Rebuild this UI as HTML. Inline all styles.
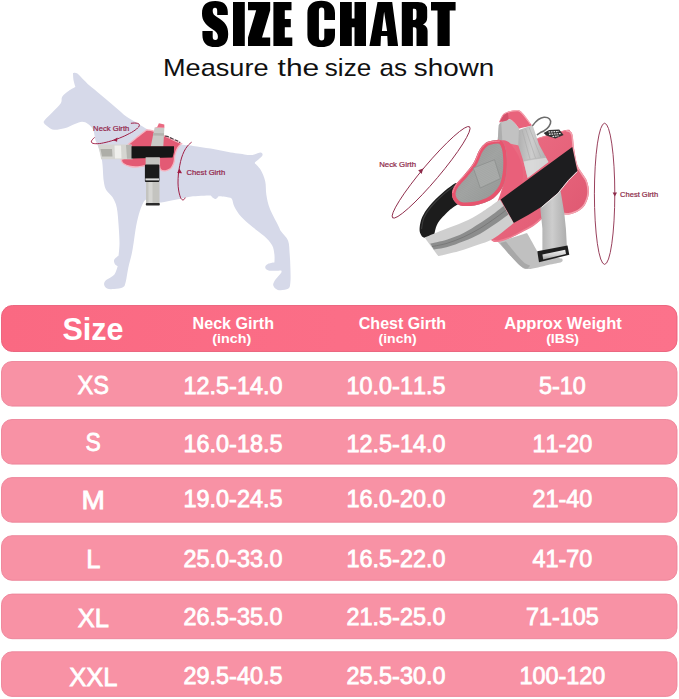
<!DOCTYPE html>
<html>
<head>
<meta charset="utf-8">
<title>Size Chart</title>
<style>
html,body{margin:0;padding:0;background:#fff;}
body{width:679px;height:699px;overflow:hidden;font-family:"Liberation Sans",sans-serif;}
svg{display:block;}
text{font-family:"Liberation Sans",sans-serif;}
.num{font-kerning:none;font-size:23.4px;fill:#fff;stroke:#fff;stroke-width:0.8px;text-anchor:middle;}
.sz{font-size:25.5px;fill:#fff;stroke:#fff;stroke-width:0.8px;}
.h1{font-size:15.8px;font-weight:bold;fill:#fff;}
.h2{font-size:12.3px;font-weight:bold;fill:#fff;}
.lbl{font-size:7.6px;stroke-width:0.22px;}
</style>
</head>
<body>
<svg width="679" height="699" viewBox="0 0 679 699">
<defs>
<linearGradient id="gpink" x1="0" x2="1" y1="0" y2="1">
<stop offset="0" stop-color="#ec7086"/><stop offset="0.55" stop-color="#e6627a"/><stop offset="1" stop-color="#dc566f"/>
</linearGradient>
<linearGradient id="gstrap" x1="0" x2="1" y1="0" y2="0">
<stop offset="0" stop-color="#b0b0b0"/><stop offset="0.45" stop-color="#cdcdcd"/><stop offset="1" stop-color="#adadad"/>
</linearGradient>
<linearGradient id="gmesh" x1="0" x2="1" y1="0" y2="1">
<stop offset="0" stop-color="#939695"/><stop offset="0.5" stop-color="#a8aaa9"/><stop offset="1" stop-color="#969998"/>
</linearGradient>
<pattern id="dots" width="1.6" height="1.6" patternUnits="userSpaceOnUse" patternTransform="rotate(-25)"><rect width="1.6" height="1.6" fill="none"/><circle cx="0.8" cy="0.8" r="0.5" fill="#7f8281" opacity="0.7"/></pattern>
<linearGradient id="ghead" x1="0" x2="1" y1="0" y2="0"><stop offset="0" stop-color="#fa6982"/><stop offset="0.5" stop-color="#fb6e87"/><stop offset="1" stop-color="#fc728b"/></linearGradient>
<linearGradient id="gbar" x1="0" x2="0" y1="0" y2="1"><stop offset="0" stop-color="#f2f2f2"/><stop offset="0.55" stop-color="#d0d0d0"/><stop offset="1" stop-color="#9c9c9c"/></linearGradient>
</defs>
<rect width="679" height="699" fill="#fff"/>

<g id="title" fill="#000">
<path d="M215.2,1.1 C223.5,1.1 227.8,5 227.8,12 V15.1 H217.2 V11 C217.2,8.8 216.6,7.7 215,7.7 C213.4,7.7 212.7,8.8 212.7,11 C212.7,13.8 214,15.2 217.3,17.3 C225.2,22.3 228.2,26 228.2,34 C228.2,43 223.8,47.1 215.3,47.1 C206.8,47.1 202.4,43 202.4,35 V30.9 H212.7 V36.8 C212.7,39.1 213.5,40.1 215.3,40.1 C217.1,40.1 217.9,39.1 217.9,36.8 C217.9,33.5 216.5,32 212.5,29.3 C205,24.2 202,20.5 202,13.5 C202,5 206.5,1.1 215.2,1.1 Z"/>
<path d="M233,2 H244.8 V46 H233 Z"/>
<path d="M248,2 H270.2 V10.3 L262,37.6 H270.2 V46 H248 V37.6 L256.2,10.3 H248 Z"/>
<path d="M273.4,2 H291.5 V10.3 H284.8 V19.1 H290.8 V27.2 H284.8 V37.6 H292.3 V46 H273.4 Z"/>
<path d="M321.2,0.7 C330,0.7 335,5 335,13 V19.9 H324.3 V11 C324.3,8.5 323.5,7.4 321.6,7.4 C319.7,7.4 318.9,8.5 318.9,11 V37 C318.9,39.5 319.7,40.5 321.6,40.5 C323.5,40.5 324.3,39.5 324.3,37 V28.7 H335 V35 C335,43 330,47.1 321.2,47.1 C312.4,47.1 307.4,43 307.4,35 V13 C307.4,5 312.4,0.7 321.2,0.7 Z"/>
<path d="M340,2 H351.8 V18.4 H354.5 V2 H366 V46 H354.5 V27.2 H351.8 V46 H340 Z"/>
<path fill-rule="evenodd" d="M377.5,2 H392.2 L398.1,46 H387.8 L387.3,36 H381 L380.5,46 H369.4 Z M384.1,11.8 L387.1,30.9 H381.9 Z"/>
<path fill-rule="evenodd" d="M401.8,2 H418 Q427.2,2 427.2,10 V17.5 Q427.2,22.5 423,24.5 Q427.6,26 427.6,31 V46 H416.5 V30 Q416.5,27.2 414.5,27.2 H412.9 V46 H401.8 Z M412.9,8.8 H414.5 Q416.5,8.8 416.5,11 V17.5 Q416.5,19.9 414.5,19.9 H412.9 Z"/>
<path d="M431,2 H455.6 V10.6 H449.7 V46 H437.5 V10.6 H431 Z"/>
<g font-size="24.4" fill="#111">
<text x="163" y="75.7" textLength="105.6" lengthAdjust="spacingAndGlyphs">Measure</text>
<text x="277.6" y="75.7" textLength="41.6" lengthAdjust="spacingAndGlyphs">the</text>
<text x="324.8" y="75.7" textLength="46.4" lengthAdjust="spacingAndGlyphs">size</text>
<text x="379.6" y="75.7" textLength="27.6" lengthAdjust="spacingAndGlyphs">as</text>
<text x="413.8" y="75.7" textLength="80.4" lengthAdjust="spacingAndGlyphs">shown</text>
</g>
</g>

<g id="dog">
<path d="M73.0,73.1 C73.0,73.1 75.2,72.1 77.0,73.3 C78.8,74.5 81.7,78.0 83.8,80.0 C85.9,82.0 86.6,83.1 89.5,85.6 C92.4,88.1 96.9,91.5 101.3,95.2 C105.7,98.9 111.8,104.2 116.0,107.7 C120.2,111.2 123.1,114.2 126.3,116.5 C129.5,118.8 131.9,119.8 135.0,121.7 C138.1,123.6 142.2,126.3 145.0,128.0 C147.8,129.7 148.7,130.2 152.0,132.0 C155.3,133.8 160.1,136.5 165.0,138.6 C169.9,140.7 176.8,143.4 181.5,144.6 C186.2,145.8 188.1,145.2 193.0,145.9 C197.9,146.6 204.8,147.6 210.7,148.6 C216.6,149.6 222.5,151.1 228.4,152.1 C234.3,153.1 242.0,154.2 246.0,154.7 C250.0,155.2 250.2,155.2 252.6,154.9 C255.0,154.6 259.0,152.5 260.6,152.6 C262.2,152.7 263.0,154.2 262.4,155.5 C261.8,156.8 258.5,159.4 257.2,160.6 C255.9,161.8 254.5,162.9 254.5,162.9 C254.5,162.9 258.8,166.6 260.6,169.7 C262.4,172.8 264.2,177.0 265.2,181.2 C266.2,185.4 265.6,190.3 266.4,194.9 C267.2,199.5 267.9,203.6 269.8,208.6 C271.7,213.6 275.9,220.9 277.8,224.7 C279.7,228.5 279.5,228.8 281.2,231.5 C282.9,234.2 286.7,236.9 288.1,240.7 C289.5,244.5 289.3,249.8 289.7,254.4 C290.1,259.0 290.3,263.5 290.4,268.1 C290.5,272.7 290.8,278.5 290.4,281.9 C290.0,285.3 290.2,287.4 288.1,288.7 C286.0,290.0 280.3,290.5 277.8,289.9 C275.3,289.3 273.6,287.0 273.2,285.3 C272.8,283.6 274.2,281.7 275.5,279.6 C276.8,277.5 280.2,274.2 281.2,272.7 C282.1,271.2 281.2,270.4 281.2,270.4 C281.2,270.4 271.3,271.0 268.6,270.4 C265.9,269.8 265.2,268.1 265.2,267.0 C265.2,265.9 267.1,264.4 268.6,263.6 C270.1,262.8 274.4,262.4 274.4,262.4 C274.4,262.4 274.8,257.2 274.4,254.4 C274.0,251.6 273.8,248.4 272.1,245.3 C270.4,242.2 267.4,239.2 264.1,236.1 C260.9,233.0 256.4,230.2 252.6,227.0 C248.8,223.8 244.2,220.1 241.2,216.7 C238.1,213.3 235.9,209.4 234.3,206.4 C232.8,203.4 233.0,200.4 231.9,198.9 C230.8,197.4 229.7,197.6 227.5,197.2 C225.3,196.8 218.6,196.3 218.6,196.3 C218.6,196.3 216.9,198.6 216.0,198.9 C215.1,199.2 214.2,198.6 213.3,198.0 C212.4,197.4 210.7,195.4 210.7,195.4 C210.7,195.4 198.9,195.6 193.0,196.3 C187.1,197.0 180.6,198.8 175.3,199.8 C170.0,200.8 165.4,202.2 161.2,202.5 C157.0,202.8 152.5,202.0 150.0,201.5 C147.5,201.0 146.0,199.5 146.0,199.5 C146.0,199.5 144.3,200.5 143.3,202.4 C142.3,204.3 141.0,207.4 139.8,211.2 C138.6,215.0 137.3,220.0 136.3,225.3 C135.3,230.6 134.3,238.3 133.6,243.0 C132.8,247.7 132.7,249.5 131.8,253.6 C130.9,257.7 129.3,263.1 128.3,267.8 C127.3,272.5 126.6,278.7 125.7,281.9 C124.8,285.1 124.9,286.0 123.0,287.2 C121.1,288.4 116.9,288.8 114.2,289.0 C111.5,289.2 108.8,289.3 107.1,288.6 C105.4,287.9 104.2,286.0 104.1,284.6 C103.9,283.2 104.5,281.7 106.2,280.1 C107.9,278.5 112.3,277.2 114.2,274.8 C116.1,272.4 117.7,266.0 117.7,266.0 C117.7,266.0 115.6,265.2 115.0,264.2 C114.4,263.2 113.6,261.3 114.2,259.8 C114.8,258.3 118.6,255.4 118.6,255.4 C118.6,255.4 119.5,248.0 119.5,243.0 C119.5,238.0 119.0,231.2 118.6,225.3 C118.1,219.4 117.8,212.4 116.8,207.7 C115.8,203.0 114.2,200.0 112.4,197.1 C110.6,194.2 107.7,192.7 106.2,190.0 C104.8,187.3 104.4,185.7 103.7,180.8 C103.0,175.9 103.0,166.5 102.0,160.5 C101.0,154.5 98.7,148.4 97.6,145.0 C96.5,141.6 96.1,142.5 95.4,140.0 C94.7,137.5 94.4,132.5 93.2,129.8 C92.0,127.1 89.8,125.2 88.0,123.9 C86.2,122.6 84.3,121.7 82.1,121.7 C79.9,121.7 77.7,122.8 74.8,123.9 C71.9,125.0 68.0,127.3 64.5,128.3 C61.0,129.3 56.8,130.0 54.1,129.8 C51.4,129.6 50.0,128.0 48.3,126.9 C46.6,125.8 44.7,124.3 44.1,123.2 C43.5,122.1 43.2,122.1 44.6,120.2 C46.0,118.3 50.0,114.9 52.7,112.1 C55.4,109.3 59.2,105.9 60.8,103.3 C62.4,100.7 60.9,98.8 62.2,96.7 C63.6,94.6 66.7,92.4 68.9,90.8 C71.1,89.2 75.5,87.1 75.5,87.1 C75.5,87.1 73.9,82.3 73.5,80.0 C73.1,77.7 73.0,73.1 73.0,73.1 Z" fill="#d6d9e9"/>
<path d="M130.9,123.3 L132.9,123.1 L134.6,123.0 L136.1,123.1 L137.4,123.3 L138.3,123.6 L139.0,124.1 L139.3,124.6 L139.4,125.3 L139.1,126.1 L138.6,127.0 L137.7,127.9 L136.6,129.0 L135.1,130.1 L133.5,131.2 L131.6,132.4 L129.4,133.5 L127.1,134.7 L124.7,135.9 L122.1,137.0 L119.5,138.1 L116.8,139.1 L114.1,140.0 L111.3,140.9 L108.7,141.6 L106.1,142.3 L103.7,142.8 L101.4,143.3 L99.3,143.6 L97.4,143.7 L95.7,143.7 L94.3,143.6 L93.1,143.4 L92.2,143.0 L91.7,142.6 L91.4,142.0 L91.4,141.2 L91.8,140.4 L92.5,139.5 L93.4,138.5 L94.6,137.5" fill="none" stroke="#a01e45" stroke-width="1"/>
<path d="M127.8,144.8 C127.8,144.8 133.9,139.7 137.0,137.2 C140.1,134.7 146.6,129.9 146.6,129.9 C146.6,129.9 150.1,130.1 152.0,130.6 C153.9,131.1 156.0,132.2 158.0,133.0 C160.0,133.8 161.8,134.6 164.2,135.7 C166.6,136.8 169.6,138.3 172.5,139.6 C175.4,140.9 181.6,143.6 181.6,143.6 C181.6,143.6 178.6,146.3 177.5,148.2 C176.4,150.1 175.4,153.1 174.9,155.1 C174.4,157.1 174.6,158.6 174.4,160.0 C174.2,161.4 174.2,162.1 173.6,163.5 C173.0,164.9 172.0,167.4 170.7,168.6 C169.3,169.8 167.2,170.6 165.5,170.8 C163.8,171.0 161.8,170.7 160.8,169.8 C159.8,168.9 159.4,165.5 159.4,165.5 C159.4,165.5 159.4,158.0 159.4,158.0 C159.4,158.0 146.7,158.0 146.7,158.0 C146.7,158.0 146.7,165.4 146.7,165.4 C146.7,165.4 140.7,166.7 138.0,166.9 C135.3,167.1 133.0,167.1 130.5,166.5 C128.0,165.9 124.8,164.6 123.2,163.4 C121.7,162.2 121.2,159.3 121.2,159.3 C121.2,159.3 127.8,157.0 127.8,157.0 C127.8,157.0 127.8,144.8 127.8,144.8 Z" fill="#e35a74" stroke="#f6b4c0" stroke-width="1.3"/>
<path d="M154.6,127.4 L164.4,127.7 L163.3,146.5 L150.8,146.5 Z" fill="#c9c9c6"/>
<path d="M153.4,133.0 L164.1,133.2 L163.9,135.8 L152.9,135.6 Z" fill="#b3b3ae"/>
<path d="M157.2,126.9 L158.9,123.2 L164.3,124.5 L164.4,127.8 L154.6,127.5 Z" fill="#ea6a82"/>
<path d="M165,136.2 C167.5,135.6 169.5,137.6 172,138.6 C175,139.8 177.5,140.6 180.2,142.6" fill="none" stroke="#4a3a3f" stroke-width="1.1" stroke-dasharray="4 1.2"/>
<path d="M98.1,144.6 L131.5,144.6 L132.7,159.2 L101.2,159.2 Z" fill="#d5d5d1"/>
<path d="M100.5,149.0 L112.0,149.0 L112.5,156.5 L102.0,156.5 Z" fill="#aeaea8"/>
<path d="M114.5,145.5 L121.0,145.5 L121.5,158.5 L115.0,158.5 Z" fill="#efefec"/>
<path d="M126.0,145.0 L131.5,145.0 L132.6,158.8 L127.0,158.8 Z" fill="#b5b5b0"/>
<path d="M131.5,146.2 L174,146.2 Q174.6,152 172.6,157.4 L131.5,158.4 Z" fill="#161616"/>
<path d="M145.6,157.2 L159.8,157.2 L159.6,165.0 L145.6,165.0 Z" fill="#c4c4c0"/>
<rect x="144.9" y="164.4" width="14.5" height="17.6" rx="1" fill="#1b1b1b"/>
<rect x="145.4" y="178.4" width="13.6" height="2" fill="#dedede"/>
<rect x="146" y="182" width="13.5" height="21.3" fill="#c4c4c0"/>
<rect x="148.5" y="182" width="4" height="21.3" fill="#d6d6d3"/>
<rect x="145.8" y="203.1" width="14" height="2.4" rx="0.8" fill="#2a2a2a"/>
<path d="M191.6,142.2 C190.9,142.8 188.7,144.5 187.5,146.0 C186.3,147.5 185.2,149.2 184.2,151.2 C183.2,153.2 182.2,155.7 181.5,158.0 C180.8,160.3 180.3,162.6 179.8,165.3 C179.3,168.0 178.7,171.1 178.4,174.0 C178.1,176.9 178.0,180.3 178.0,183.0 C178.0,185.7 178.3,187.9 178.6,190.0 C178.9,192.1 179.4,194.0 179.8,195.4 C180.2,196.8 180.5,197.8 181.0,198.5 C181.5,199.2 182.1,199.8 182.6,199.9 C183.1,200.0 183.8,199.7 184.2,199.3 C184.6,198.9 185.0,197.9 185.2,197.6" fill="none" stroke="#a01e45" stroke-width="1"/>
<path d="M179.4,168.4 L182,173.2 L177.2,173 Z" fill="#a01e45"/>
<path d="M113,140.3 L117.4,137.4 L117.1,141.8 Z" fill="#a01e45"/>
<text class="lbl" x="93.1" y="131" fill="#93264a" stroke="#93264a" textLength="36.2" lengthAdjust="spacingAndGlyphs">Neck Girth</text>
<text class="lbl" x="186.6" y="175.2" fill="#93264a" stroke="#93264a" textLength="38.6" lengthAdjust="spacingAndGlyphs">Chest Girth</text>
</g>
<g id="harness">
<ellipse cx="431.1" cy="172.3" rx="59.6" ry="8.3" transform="rotate(-49.8 431.1 172.3)" fill="none" stroke="#8d2a49" stroke-width="0.9"/>
<ellipse cx="604.6" cy="193.8" rx="10.2" ry="70.6" fill="none" stroke="#8d2a49" stroke-width="0.9"/>
<path d="M423.2,168.6 L418.2,170.2 L421.6,174 Z" fill="#8d2a49"/>
<path d="M612.6,192.6 L617,192.6 L614.8,196.6 Z" fill="#8d2a49"/>
<text class="lbl" x="379.2" y="167.4" fill="#8d2a49" stroke="#8d2a49" textLength="36.8" lengthAdjust="spacingAndGlyphs">Neck Girth</text>
<text class="lbl" x="620.1" y="197.3" fill="#8d2a49" stroke="#8d2a49" textLength="38" lengthAdjust="spacingAndGlyphs">Chest Girth</text>
<path d="M498.8,125.0 L501.2,121.4 L506.0,120.2 L510.2,119.0 L514.4,122.6 L519.1,128.6 L519.5,147.0 L497.7,141.0 Z" fill="#c2c2c2"/>
<path d="M498.8,125.0 L501.2,121.6 L502.4,142.0 L497.7,141.0 Z" fill="#adadad"/>
<path d="M419.6,228.0 C419.9,225.2 420.5,221.0 422.1,217.3 C423.7,213.6 426.0,210.0 429.4,205.9 C432.8,201.8 438.1,196.8 442.4,193.0 C446.7,189.2 452.6,184.4 455.4,183.2 C458.2,182.0 459.0,186.0 459.0,186.0 C459.0,186.0 455.2,191.9 455.0,195.0 C454.8,198.1 458.0,204.3 458.0,204.3 C458.0,204.3 452.3,207.6 448.9,210.8 C445.5,214.0 439.9,219.6 437.5,223.7 C435.1,227.8 434.3,235.1 434.3,235.1 C434.3,235.1 426.9,238.0 424.6,237.8 C422.3,237.6 421.4,235.6 420.6,234.0 C419.8,232.4 419.4,230.8 419.6,228.0 Z" fill="#1c1c1c"/>
<path d="M421.5,229.0 C421.9,227.2 422.2,221.7 423.8,218.0 C425.4,214.3 427.5,210.9 430.8,207.0 C434.1,203.1 439.2,198.1 443.4,194.4 C447.6,190.7 453.7,186.6 455.8,185.0" fill="none" stroke="#3a3a3a" stroke-width="1.2"/>
<path d="M498.0,242.0 C498.0,242.0 527.0,233.0 527.0,233.0 C527.0,233.0 540.0,256.0 540.0,256.0 C540.0,256.0 562.0,258.5 562.0,258.5 C562.0,258.5 563.8,260.9 561.5,262.0 C559.2,263.1 553.5,263.8 548.0,265.0 C542.5,266.2 533.2,269.0 528.6,269.1 C524.0,269.2 523.5,268.1 520.5,265.9 C517.5,263.7 514.5,260.1 510.8,256.1 C507.1,252.1 498.0,242.0 498.0,242.0 Z" fill="#c0c0c0"/>
<path d="M500.0,243.0 C500.0,243.0 506.0,241.5 506.0,241.5 C506.0,241.5 513.0,250.5 516.0,254.0 C519.0,257.5 521.7,260.6 524.0,262.5 C526.3,264.4 530.0,265.5 530.0,265.5 C530.0,265.5 528.6,268.5 527.0,268.6 C525.4,268.7 523.2,268.0 520.5,265.9 C517.8,263.8 514.2,259.9 510.8,256.1 C507.4,252.3 500.0,243.0 500.0,243.0 Z" fill="#a8a8a8"/>
<path d="M497.7,139.6 C497.4,138.2 500.1,140.8 503.6,141.8 C507.2,142.8 515.1,145.2 519.0,145.4 C522.9,145.6 523.8,144.2 527.0,143.0 C530.2,141.8 538.3,138.0 538.3,138.0 C538.3,138.0 560.5,131.1 565.9,130.0 C571.3,128.9 569.4,130.6 570.5,131.5 C571.6,132.4 572.0,132.7 572.6,135.5 C573.2,138.3 573.2,143.7 574.0,148.6 C574.8,153.5 575.7,160.5 577.2,164.8 C578.7,169.1 581.5,172.0 583.0,174.5 C584.5,177.0 585.6,177.9 586.5,180.0 C587.4,182.1 588.1,184.7 588.5,187.0 C588.9,189.3 588.9,191.9 588.7,194.0 C588.5,196.1 588.1,197.7 587.4,199.6 C586.7,201.5 585.8,203.9 584.6,205.6 C583.4,207.3 581.6,208.8 580.0,210.0 C578.4,211.2 576.9,212.1 575.0,212.8 C573.1,213.6 570.8,214.3 568.6,214.5 C566.4,214.7 564.1,213.9 562.0,214.2 C559.9,214.4 559.4,215.2 556.0,216.0 C552.6,216.8 541.6,219.0 541.6,219.0 C541.6,219.0 536.8,223.3 533.5,225.4 C530.2,227.5 526.1,229.7 522.1,231.8 C518.1,234.0 513.2,236.6 509.2,238.3 C505.1,240.0 500.6,241.4 497.8,241.8 C495.0,242.2 493.7,241.8 492.1,240.7 C490.5,239.6 488.0,239.3 488.0,235.0 C488.0,230.7 490.0,221.7 492.0,215.0 C494.0,208.3 497.8,201.7 500.0,195.0 C502.2,188.3 504.1,182.5 505.0,175.0 C505.9,167.5 506.8,155.9 505.6,150.0 C504.4,144.1 498.0,141.0 497.7,139.6 Z" fill="url(#gpink)"/>
<path d="M500.4,140.3 C500.4,140.3 505.7,139.6 508.6,142.0 C511.5,144.4 515.6,150.3 518.0,155.0 C520.4,159.7 522.2,165.1 522.7,170.3 C523.2,175.5 522.8,181.6 521.0,186.0 C519.2,190.4 515.5,194.3 512.0,197.0 C508.5,199.7 500.0,202.0 500.0,202.0 C500.0,202.0 505.1,181.2 506.2,174.0 C507.3,166.8 507.0,163.1 506.8,158.6 C506.6,154.1 506.1,149.9 505.0,146.8 C503.9,143.8 500.4,140.3 500.4,140.3 Z" fill="#e9607a"/>
<path d="M566.0,130.6 C566.7,130.8 569.0,131.1 570.0,131.9 C571.0,132.7 571.4,132.8 572.0,135.6 C572.6,138.4 572.6,143.7 573.4,148.6 C574.2,153.5 575.1,160.5 576.6,164.9 C578.1,169.3 580.8,172.2 582.3,174.8 C583.8,177.4 584.9,178.3 585.8,180.3 C586.7,182.3 587.4,184.7 587.7,187.0 C588.1,189.3 588.1,191.9 587.9,194.0 C587.7,196.1 587.3,197.5 586.6,199.4 C585.9,201.3 585.1,203.5 583.9,205.2 C582.7,206.9 581.0,208.3 579.5,209.4 C578.0,210.5 576.5,211.3 574.7,212.0 C572.9,212.7 570.6,213.5 568.6,213.7 C566.6,213.9 563.9,213.4 563.0,213.4" fill="none" stroke="#f3a3b0" stroke-width="1.5"/>
<path d="M538.3,138.3 C540.6,137.6 547.4,135.6 552.0,134.3 C556.6,133.0 563.7,131.1 566.0,130.4" fill="none" stroke="#f08a9b" stroke-width="1"/>
<path d="M541.0,218.6 C539.8,219.7 536.6,222.9 533.5,225.0 C530.4,227.1 526.1,229.2 522.1,231.3 C518.1,233.4 513.2,236.2 509.2,237.8 C505.1,239.5 500.6,240.8 497.8,241.2 C495.0,241.6 493.4,240.4 492.5,240.2" fill="none" stroke="#ee7f93" stroke-width="1.6"/>
<path d="M540.2,207.5 L560.6,191.0 L564.2,212.4 L565.9,228.6 L566.9,247.0 L542.4,251.5 L542.4,228.6 Z" fill="url(#gstrap)"/>
<path d="M499.0,122.6 C499.0,122.6 499.4,121.2 500.1,119.8 C500.8,118.4 502.1,115.4 503.4,114.1 C504.7,112.8 506.2,112.3 507.8,111.7 C509.4,111.1 511.2,110.7 513.0,110.4 C514.8,110.1 516.7,109.7 518.3,110.1 C519.9,110.5 521.0,111.6 522.4,112.9 C523.8,114.2 525.1,116.2 526.5,118.0 C527.9,119.8 529.5,122.2 530.5,123.4 C531.5,124.7 532.4,125.5 532.4,125.5 C532.4,125.5 519.1,128.6 519.1,128.6 C519.1,128.6 515.8,124.2 514.3,122.6 C512.8,121.0 511.4,119.6 510.2,119.2 C509.0,118.8 508.4,119.8 507.0,120.2 C505.6,120.6 502.1,121.6 502.1,121.6 C502.1,121.6 499.0,122.6 499.0,122.6 Z" fill="#e9637c"/>
<path d="M500.4,120.4 C501.0,119.4 502.5,115.9 503.8,114.6 C505.1,113.2 506.5,112.9 508.0,112.3 C509.5,111.7 511.3,111.3 513.0,111.0 C514.7,110.7 516.7,110.3 518.2,110.7 C519.7,111.1 520.8,112.1 522.1,113.4 C523.4,114.7 524.9,116.7 526.2,118.4 C527.6,120.1 529.5,122.9 530.2,123.8" fill="none" stroke="#f5a9b5" stroke-width="1.2"/>
<path d="M500.1,120.6 C500.1,120.6 503.6,115.0 503.6,115.0 C503.6,115.0 507.8,112.6 507.8,112.6 C507.8,112.6 508.6,118.5 508.6,118.5 C508.6,118.5 508.1,119.7 507.0,120.2 C505.9,120.7 502.1,121.6 502.1,121.6 C502.1,121.6 500.1,120.6 500.1,120.6 Z" fill="#d4506a"/>
<path d="M518.9,130.0 L532.6,125.0 L538.9,144.2 L548.5,162.0 L527.6,178.0 L523.6,161.8 L518.3,145.3 Z" fill="url(#gstrap)"/>
<path d="M522,130 L530,159 M525.5,128.6 L535.5,158 M529,127.2 L541,157.4" stroke="#a9a9a9" stroke-width="0.7" fill="none" opacity="0.8"/>
<path d="M523.2,160.6 L545.8,156.8" stroke="#b8b8b8" stroke-width="0.9" fill="none"/>
<path d="M523.5,161.6 L546.0,157.8 L548.5,162.0 L527.6,178.0 Z" fill="#dcdcdc" opacity="0.8"/>
<path d="M532.8,125.4 C536,121 540,117.6 544,117.3 C549,117 551.6,120 550.4,123.6 C549,127.6 545,131 540.3,132.6 L537.4,134.6" fill="none" stroke="#6c6c6c" stroke-width="1.6" stroke-linecap="round"/>
<path d="M543.6,132.9 L549.1,129.9 L559.2,129.6 L563.6,135.0 L555.3,138.6 L546.3,135.6 Z" fill="#2f2f2f"/>
<path d="M548.5,132 L559,131.4 M549,134.3 L561,133.6 M552.5,136.6 L558.5,135.8" stroke="#e6e6e6" stroke-width="1.2" fill="none" stroke-dasharray="1.7 0.8"/>
<path d="M572.3,147.0 L500.7,199.4 L513.7,222.9 L528.6,214.8 L541.6,206.7 L557.8,193.0 L568.3,180.0 L577.4,171.0 L574.2,156.0 Z" fill="#1d1d1f"/>
<path d="M577.2,171.6 L568.3,180.6 L557.8,193.6 L541.6,207.3" fill="none" stroke="#e8e8e8" stroke-width="1"/>
<path d="M424.6,237.5 C424.6,237.5 435.9,232.8 442.4,230.2 C448.9,227.6 457.0,225.1 463.5,222.1 C470.0,219.1 475.2,216.2 481.3,212.4 C487.4,208.6 499.9,199.4 499.9,199.4 C499.9,199.4 513.7,222.9 513.7,222.9 C513.7,222.9 504.5,230.7 500.7,233.5 C496.9,236.3 494.8,238.0 491.0,239.9 C487.2,241.8 483.4,242.9 478.0,244.8 C472.6,246.7 465.2,249.4 458.6,251.3 C452.0,253.2 438.3,256.1 438.3,256.1 C438.3,256.1 424.6,237.5 424.6,237.5 Z" fill="#cfcfcf"/>
<path d="M430.2,243.6 C430.2,243.6 441.8,241.2 447.4,239.4 C453.0,237.6 458.2,235.6 463.6,232.9 C469.0,230.2 474.4,226.7 479.8,223.2 C485.2,219.7 492.0,214.8 496.0,211.9 C500.0,209.0 503.6,206.0 503.6,206.0 C503.6,206.0 508.4,214.4 508.4,214.4 C508.4,214.4 500.8,220.2 496.0,223.4 C491.2,226.7 485.2,230.9 479.8,233.9 C474.4,236.9 469.0,239.0 463.6,241.2 C458.2,243.4 452.4,245.5 447.4,246.9 C442.4,248.3 433.8,249.4 433.8,249.4 C433.8,249.4 430.2,243.6 430.2,243.6 Z" fill="#8c8d8d"/>
<path d="M432.0,246.6 C434.6,246.0 442.1,244.8 447.4,243.2 C452.7,241.6 458.2,239.4 463.6,237.0 C469.0,234.6 474.4,231.7 479.8,228.5 C485.2,225.3 491.6,220.7 496.0,217.6 C500.4,214.5 504.3,211.4 506.0,210.2" fill="none" stroke="#707070" stroke-width="0.7"/>
<clipPath id="cpPlate"><path d="M488.6,141.5 C491.4,140.8 497.7,139.4 500.4,140.3 C503.1,141.2 503.9,143.8 505.0,146.8 C506.1,149.9 506.6,154.1 506.8,158.6 C507.0,163.1 506.9,169.2 506.2,173.9 C505.5,178.6 504.5,183.1 502.7,186.8 C500.9,190.5 498.2,193.7 495.6,196.2 C493.1,198.7 490.9,200.1 487.4,201.6 C483.9,203.1 478.9,204.8 474.4,205.4 C469.9,206.0 463.7,206.3 460.3,205.4 C456.9,204.5 455.2,202.3 453.8,200.2 C452.4,198.1 451.7,195.3 452.0,192.7 C452.3,190.1 453.4,187.6 455.6,184.5 C457.8,181.4 462.1,177.4 465.0,173.9 C467.9,170.4 470.9,167.2 473.3,163.3 C475.7,159.4 477.4,153.5 479.2,150.3 C481.0,147.2 482.3,145.9 483.9,144.4 C485.5,142.9 485.9,142.2 488.6,141.5 Z"/></clipPath>
<path d="M488.6,141.5 C491.4,140.8 497.7,139.4 500.4,140.3 C503.1,141.2 503.9,143.8 505.0,146.8 C506.1,149.9 506.6,154.1 506.8,158.6 C507.0,163.1 506.9,169.2 506.2,173.9 C505.5,178.6 504.5,183.1 502.7,186.8 C500.9,190.5 498.2,193.7 495.6,196.2 C493.1,198.7 490.9,200.1 487.4,201.6 C483.9,203.1 478.9,204.8 474.4,205.4 C469.9,206.0 463.7,206.3 460.3,205.4 C456.9,204.5 455.2,202.3 453.8,200.2 C452.4,198.1 451.7,195.3 452.0,192.7 C452.3,190.1 453.4,187.6 455.6,184.5 C457.8,181.4 462.1,177.4 465.0,173.9 C467.9,170.4 470.9,167.2 473.3,163.3 C475.7,159.4 477.4,153.5 479.2,150.3 C481.0,147.2 482.3,145.9 483.9,144.4 C485.5,142.9 485.9,142.2 488.6,141.5 Z" fill="url(#gmesh)"/>
<path d="M488.6,141.5 C491.4,140.8 497.7,139.4 500.4,140.3 C503.1,141.2 503.9,143.8 505.0,146.8 C506.1,149.9 506.6,154.1 506.8,158.6 C507.0,163.1 506.9,169.2 506.2,173.9 C505.5,178.6 504.5,183.1 502.7,186.8 C500.9,190.5 498.2,193.7 495.6,196.2 C493.1,198.7 490.9,200.1 487.4,201.6 C483.9,203.1 478.9,204.8 474.4,205.4 C469.9,206.0 463.7,206.3 460.3,205.4 C456.9,204.5 455.2,202.3 453.8,200.2 C452.4,198.1 451.7,195.3 452.0,192.7 C452.3,190.1 453.4,187.6 455.6,184.5 C457.8,181.4 462.1,177.4 465.0,173.9 C467.9,170.4 470.9,167.2 473.3,163.3 C475.7,159.4 477.4,153.5 479.2,150.3 C481.0,147.2 482.3,145.9 483.9,144.4 C485.5,142.9 485.9,142.2 488.6,141.5 Z" fill="url(#dots)"/>
<path d="M488.6,141.5 C491.4,140.8 497.7,139.4 500.4,140.3 C503.1,141.2 503.9,143.8 505.0,146.8 C506.1,149.9 506.6,154.1 506.8,158.6 C507.0,163.1 506.9,169.2 506.2,173.9 C505.5,178.6 504.5,183.1 502.7,186.8 C500.9,190.5 498.2,193.7 495.6,196.2 C493.1,198.7 490.9,200.1 487.4,201.6 C483.9,203.1 478.9,204.8 474.4,205.4 C469.9,206.0 463.7,206.3 460.3,205.4 C456.9,204.5 455.2,202.3 453.8,200.2 C452.4,198.1 451.7,195.3 452.0,192.7 C452.3,190.1 453.4,187.6 455.6,184.5 C457.8,181.4 462.1,177.4 465.0,173.9 C467.9,170.4 470.9,167.2 473.3,163.3 C475.7,159.4 477.4,153.5 479.2,150.3 C481.0,147.2 482.3,145.9 483.9,144.4 C485.5,142.9 485.9,142.2 488.6,141.5 Z" fill="none" stroke="#e7546e" stroke-width="7.2" clip-path="url(#cpPlate)"/>
<path d="M473.3,168.0 L494.5,159.7 L500.4,178.6 L480.3,188.0 Z" fill="#b0b2b1" stroke="#8a8c8b" stroke-width="0.7"/>
<path d="M473.3,168.0 L494.5,159.7 L500.4,178.6 L480.3,188.0 Z" fill="url(#dots)"/>
<path d="M452.6,193.0 C453.2,191.7 453.9,188.1 456.0,185.0 C458.1,181.9 462.4,177.9 465.4,174.4 C468.4,170.9 471.4,167.7 473.8,163.8 C476.2,159.9 478.0,153.9 479.8,150.8 C481.6,147.7 482.9,146.4 484.4,145.0 C485.9,143.6 486.4,142.9 489.0,142.2 C491.6,141.5 498.0,141.2 499.8,141.0" fill="none" stroke="#f58da0" stroke-width="0.9"/>
<path d="M537.3,251.3 L567.5,245.4 L569.3,254.8 L539.0,262.2 Z" fill="#1f1f1f"/>
<path d="M542.4,254.6 L565.2,249.8 L566.0,254.0 L543.2,259.5 Z" fill="url(#gbar)"/>
</g>
<g id="table">
<rect x="1.5" y="305.5" width="675.5" height="46" rx="11" fill="url(#ghead)" stroke="#e95f79" stroke-width="0.9"/>
<rect x="1.5" y="361.5" width="675.5" height="44.6" rx="10.5" fill="#f892a5" stroke="#ec8398" stroke-width="0.9"/>
<rect x="1.5" y="419.5" width="675.5" height="44.6" rx="10.5" fill="#f892a5" stroke="#ec8398" stroke-width="0.9"/>
<rect x="1.5" y="477.6" width="675.5" height="44.6" rx="10.5" fill="#f892a5" stroke="#ec8398" stroke-width="0.9"/>
<rect x="1.5" y="535.7" width="675.5" height="44.6" rx="10.5" fill="#f892a5" stroke="#ec8398" stroke-width="0.9"/>
<rect x="1.5" y="594.1" width="675.5" height="44.6" rx="10.5" fill="#f892a5" stroke="#ec8398" stroke-width="0.9"/>
<rect x="1.5" y="651.8" width="675.5" height="44.6" rx="10.5" fill="#f892a5" stroke="#ec8398" stroke-width="0.9"/>
<text x="62.4" y="339.7" font-size="32" font-weight="bold" fill="#fff" textLength="61" lengthAdjust="spacingAndGlyphs">Size</text>
<text class="h1" x="192.6" y="328.9" textLength="81.4" lengthAdjust="spacingAndGlyphs">Neck Girth</text>
<text class="h2" x="212.2" y="343.3" textLength="39.0" lengthAdjust="spacingAndGlyphs">(inch)</text>
<text class="h1" x="358.8" y="328.9" textLength="87.2" lengthAdjust="spacingAndGlyphs">Chest Girth</text>
<text class="h2" x="378.6" y="343.3" textLength="38.0" lengthAdjust="spacingAndGlyphs">(inch)</text>
<text class="h1" x="504.2" y="328.9" textLength="117.6" lengthAdjust="spacingAndGlyphs">Approx Weight</text>
<text class="h2" x="546.2" y="343.3" textLength="32.8" lengthAdjust="spacingAndGlyphs">(IBS)</text>
<text class="sz" x="77.5" y="393.6" textLength="31.5" lengthAdjust="spacingAndGlyphs">XS</text>
<text class="num" x="233" y="393.6">12.5-14.0</text>
<text class="num" x="396" y="393.6">10.0-11.5</text>
<text class="num" x="562.3" y="393.6">5-10</text>
<text class="sz" x="85.6" y="451.4" textLength="15.3" lengthAdjust="spacingAndGlyphs">S</text>
<text class="num" x="233" y="451.5">16.0-18.5</text>
<text class="num" x="396" y="451.5">12.5-14.0</text>
<text class="num" x="562.3" y="451.5">11-20</text>
<text class="sz" x="81.6" y="508.8" textLength="23.4" lengthAdjust="spacingAndGlyphs">M</text>
<text class="num" x="233" y="506.7">19.0-24.5</text>
<text class="num" x="396" y="506.7">16.0-20.0</text>
<text class="num" x="562.3" y="506.7">21-40</text>
<text class="sz" x="93.3" y="568.2" text-anchor="middle">L</text>
<text class="num" x="233" y="566.9">25.0-33.0</text>
<text class="num" x="396" y="566.9">16.5-22.0</text>
<text class="num" x="562.3" y="566.9">41-70</text>
<text class="sz" x="93.3" y="626.7" text-anchor="middle">XL</text>
<text class="num" x="233" y="625.4">26.5-35.0</text>
<text class="num" x="396" y="625.4">21.5-25.0</text>
<text class="num" x="562.3" y="625.4">71-105</text>
<text class="sz" x="93.3" y="685.5" text-anchor="middle">XXL</text>
<text class="num" x="233" y="684.2">29.5-40.5</text>
<text class="num" x="396" y="684.2">25.5-30.0</text>
<text class="num" x="562.3" y="684.2">100-120</text>
</g>
</svg>
</body>
</html>
